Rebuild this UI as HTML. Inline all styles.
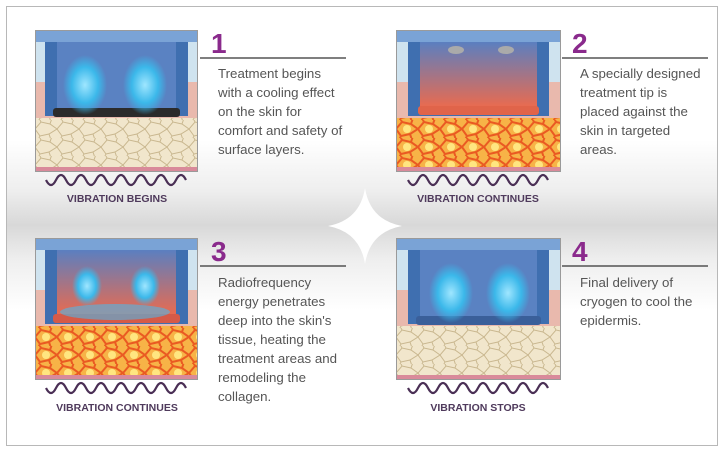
<!DOCTYPE html>
<html><head><meta charset="utf-8"><style>
html,body{margin:0;padding:0;width:724px;height:451px;overflow:hidden;background:#fff}
svg{display:block}
text{font-family:"Liberation Sans",sans-serif}
</style></head><body>
<svg width="724" height="451" viewBox="0 0 724 451" xmlns="http://www.w3.org/2000/svg">
<defs>
<linearGradient id="band" x1="0" y1="0" x2="0" y2="1">
<stop offset="0" stop-color="#fff"/><stop offset="0.3" stop-color="#eee"/><stop offset="0.5" stop-color="#d8d8d8"/><stop offset="0.7" stop-color="#eee"/><stop offset="1" stop-color="#fff"/>
</linearGradient>
<radialGradient id="spray" cx="0.5" cy="0.5" r="0.5">
<stop offset="0" stop-color="#9fe6ff"/><stop offset="0.6" stop-color="#3bb8ea"/><stop offset="1" stop-color="#3bb8ea" stop-opacity="0"/>
</radialGradient>
<linearGradient id="glow" x1="0" y1="0" x2="0" y2="1">
<stop offset="0" stop-color="#5b7fc0"/><stop offset="1" stop-color="#f06a4a"/>
</linearGradient>
<pattern id="cells" width="22" height="18" patternUnits="userSpaceOnUse">
<path d="M0 9 L6 2 L15 4 L22 9 M6 2 L4 -2 M15 4 L17 -2 M0 9 L5 16 L14 14 L22 9 M14 14 L16 20 M5 16 L3 20" stroke="#c9b78f" stroke-width="1" fill="none"/>
</pattern>
<pattern id="hotcells" width="22" height="18" patternUnits="userSpaceOnUse">
<rect width="22" height="18" fill="#f7b347"/>
<path d="M0 9 L6 2 L15 4 L22 9 M6 2 L4 -2 M15 4 L17 -2 M0 9 L5 16 L14 14 L22 9 M14 14 L16 20 M5 16 L3 20" stroke="#ea5a22" stroke-width="2" fill="none"/>
<circle cx="11" cy="9" r="4" fill="#ffe680"/>
</pattern>
<path id="wave" d="M0 0 q5 10 10 0 t10 0 t10 0 t10 0 t10 0 t10 0 t10 0 t10 0 t10 0 t10 0 t10 0 t10 0 t10 0 t10 0" fill="none" stroke="#4a2f55" stroke-width="2.2"/>
</defs>
<rect x="0" y="0" width="724" height="451" fill="#fff"/>
<rect x="6" y="140" width="712" height="170" fill="url(#band)"/>
<path d="M365 188 Q370 220 402 226 Q370 232 365 264 Q360 232 328 226 Q360 220 365 188Z" fill="#fff"/>
<rect x="6.5" y="6.5" width="711" height="439" fill="none" stroke="#b8b8b8"/>

<g transform="translate(35,30)">
<rect width="163" height="142" fill="#cfe3ef"/>
<rect y="52" width="163" height="36" fill="#e9b9ad"/>
<rect y="88" width="163" height="50" fill="#f1e6cc"/><rect y="88" width="163" height="50" fill="url(#cells)"/>
<rect y="137" width="163" height="5" fill="#d98a9a"/>
<rect x="10" y="8" width="143" height="78" fill="#3f6fb0"/><rect x="22" y="12" width="119" height="68" fill="#5a82c2"/>
<rect x="0" y="0" width="163" height="12" fill="#7aa3d6"/>
<rect x="18" y="78" width="127" height="9" rx="3" fill="#2b2b2b"/>
<ellipse cx="50" cy="55" rx="22" ry="30" fill="url(#spray)"/><ellipse cx="110" cy="55" rx="22" ry="30" fill="url(#spray)"/>
<rect x="0.5" y="0.5" width="162" height="141" fill="none" stroke="#9a9a9a"/>
</g>
<g transform="translate(396,30)">
<rect width="165" height="142" fill="#cfe3ef"/>
<rect y="52" width="165" height="36" fill="#e9b9ad"/>
<rect y="88" width="165" height="50" fill="url(#hotcells)"/>
<rect y="137" width="165" height="5" fill="#d98a9a"/>
<rect x="12" y="8" width="141" height="78" fill="#3f6fb0"/><rect x="24" y="12" width="117" height="68" fill="url(#glow)"/>
<rect x="0" y="0" width="165" height="12" fill="#7aa3d6"/>
<rect x="22" y="76" width="121" height="9" rx="3" fill="#e0644a"/>
<ellipse cx="60" cy="20" rx="8" ry="4" fill="#aaa"/><ellipse cx="110" cy="20" rx="8" ry="4" fill="#aaa"/>
<rect x="0.5" y="0.5" width="164" height="141" fill="none" stroke="#9a9a9a"/>
</g>
<g transform="translate(35,238)">
<rect width="163" height="142" fill="#cfe3ef"/>
<rect y="52" width="163" height="36" fill="#e9b9ad"/>
<rect y="88" width="163" height="50" fill="url(#hotcells)"/>
<rect y="137" width="163" height="5" fill="#d98a9a"/>
<rect x="10" y="8" width="143" height="78" fill="#3f6fb0"/><rect x="22" y="12" width="119" height="68" fill="url(#glow)"/>
<rect x="0" y="0" width="163" height="12" fill="#7aa3d6"/>
<rect x="18" y="76" width="127" height="9" rx="3" fill="#d55a48"/>
<ellipse cx="52" cy="48" rx="15" ry="20" fill="url(#spray)"/><ellipse cx="110" cy="48" rx="15" ry="20" fill="url(#spray)"/>
<ellipse cx="80" cy="74" rx="55" ry="8" fill="#4fb8e8" opacity="0.6"/>
<rect x="0.5" y="0.5" width="162" height="141" fill="none" stroke="#9a9a9a"/>
</g>
<g transform="translate(396,238)">
<rect width="165" height="142" fill="#cfe3ef"/>
<rect y="52" width="165" height="36" fill="#e9b9ad"/>
<rect y="88" width="165" height="50" fill="#f1e6cc"/><rect y="88" width="165" height="50" fill="url(#cells)"/>
<rect y="137" width="165" height="5" fill="#d98a9a"/>
<rect x="12" y="8" width="141" height="78" fill="#3f6fb0"/><rect x="24" y="12" width="117" height="68" fill="#5a82c2"/>
<rect x="0" y="0" width="165" height="12" fill="#7aa3d6"/>
<rect x="20" y="78" width="125" height="9" rx="3" fill="#3a5f9a"/>
<ellipse cx="55" cy="55" rx="22" ry="30" fill="url(#spray)"/><ellipse cx="112" cy="55" rx="22" ry="30" fill="url(#spray)"/>
<rect x="0.5" y="0.5" width="164" height="141" fill="none" stroke="#9a9a9a"/>
</g>

<use href="#wave" x="46" y="180"/>
<use href="#wave" x="408" y="180"/>
<use href="#wave" x="46" y="388"/>
<use href="#wave" x="408" y="388"/>
<g font-weight="bold" font-size="10.5" fill="#4f3a5c" text-anchor="middle">
<text x="117" y="202">VIBRATION BEGINS</text>
<text x="478" y="202">VIBRATION CONTINUES</text>
<text x="117" y="411">VIBRATION CONTINUES</text>
<text x="478" y="411">VIBRATION STOPS</text>
</g>

<g font-weight="bold" font-size="28" fill="#8a2a8c">
<text x="211" y="53">1</text><text x="572" y="53">2</text>
<text x="211" y="261">3</text><text x="572" y="261">4</text>
</g>
<g stroke="#333" stroke-width="1.3">
<line x1="200" y1="58" x2="346" y2="58"/><line x1="562" y1="58" x2="708" y2="58"/>
<line x1="200" y1="266" x2="346" y2="266"/><line x1="562" y1="266" x2="708" y2="266"/>
</g>
<g font-size="13.3" fill="#555">
<text x="218" y="78">Treatment begins</text><text x="218" y="97">with a cooling effect</text><text x="218" y="116">on the skin for</text><text x="218" y="135">comfort and safety of</text><text x="218" y="154">surface layers.</text>
<text x="580" y="78">A specially designed</text><text x="580" y="97">treatment tip is</text><text x="580" y="116">placed against the</text><text x="580" y="135">skin in targeted</text><text x="580" y="154">areas.</text>
<text x="218" y="287">Radiofrequency</text><text x="218" y="306">energy penetrates</text><text x="218" y="325">deep into the skin's</text><text x="218" y="344">tissue, heating the</text><text x="218" y="363">treatment areas and</text><text x="218" y="382">remodeling the</text><text x="218" y="401">collagen.</text>
<text x="580" y="287">Final delivery of</text><text x="580" y="306">cryogen to cool the</text><text x="580" y="325">epidermis.</text>
</g>
</svg>
</body></html>
